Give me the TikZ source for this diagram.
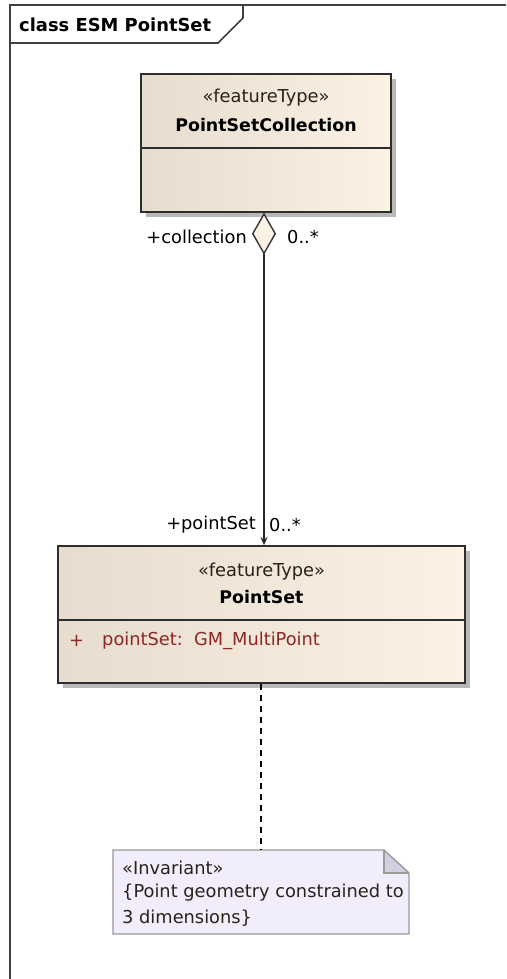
\documentclass[tikz,border=0pt]{standalone}
\usepackage{fontspec}
\setmainfont{DejaVu Sans}
\usetikzlibrary{arrows.meta,shapes.geometric,shadows}
\definecolor{frameclr}{HTML}{404040}
\definecolor{boxline}{HTML}{2E2E2E}
\definecolor{boxleft}{HTML}{E6DDCE}
\definecolor{boxright}{HTML}{FCF2E3}
\definecolor{attrclr}{HTML}{8E2626}
\definecolor{notefill}{HTML}{F1EDFD}
\definecolor{noteline}{HTML}{9A9A9A}
\definecolor{foldfill}{HTML}{D2CFDF}
\definecolor{stereoclr}{HTML}{2A2218}
\newcommand{\txtsize}{\fontsize{17.8}{21}\selectfont}
\newcommand{\bldsize}{\fontsize{17.4}{21}\selectfont}
\newcommand{\ttlsize}{\fontsize{17.9}{22}\selectfont}
\tikzset{
  classbox/.style={draw=boxline, line width=1.8pt, left color=boxleft, right color=boxright,
    inner sep=0pt, drop shadow={shadow xshift=5pt, shadow yshift=-5pt, fill=black!28, opacity=1}},
  txt/.style={font=\txtsize, inner sep=0pt},
  boldtxt/.style={font=\bldsize\bfseries, inner sep=0pt},
  conn/.style={line width=1.4pt, draw=black!85},
}
\begin{document}
\begin{tikzpicture}[x=1pt,y=-1pt]
\useasboundingbox (0,0) rectangle (506,979);
% frame
\draw[frameclr, line width=2.2pt] (10,979) -- (10,5) -- (506,5);
\draw[frameclr, line width=1.6pt] (10,43) -- (218,43) -- (243,18) -- (243,5);
\node[font=\ttlsize\bfseries, inner sep=0pt, anchor=west] (title) at (19,25) {class ESM PointSet};
% class 1
\node[classbox, minimum width=250pt, minimum height=138pt] (c1) at (266,143) {};
\draw[boxline, line width=1.6pt] (c1.west |- 0,148) -- (c1.east |- 0,148);
\node[txt, text=stereoclr] (st1) at (266,98) {«featureType»};
\node[boldtxt] (n1) at (266,125) {PointSetCollection};
% class 2
\node[classbox, minimum width=407pt, minimum height=137pt] (c2) at (261.5,614.5) {};
\draw[boxline, line width=1.6pt] (c2.west |- 0,620) -- (c2.east |- 0,620);
\node[txt, text=stereoclr] (st2) at (261.5,572) {«featureType»};
\node[boldtxt] (n2) at (261.5,597) {PointSet};
\node[txt, text=attrclr, anchor=west] (a1) at (69,641) {+};
\node[txt, text=attrclr, anchor=west] (a2) at (102,641) {pointSet:\ \ GM\_MultiPoint};
% aggregation diamond
\node[diamond, draw=black!80, line width=1.4pt, fill=boxright, inner sep=0pt,
      minimum width=23pt, minimum height=40pt, anchor=north] (dia) at (264,213) {};
\draw[conn, -{Stealth[length=8pt,width=7pt]}] (dia.south) -- (dia.south |- c2.north);
\node[txt, anchor=east] (r1) at (247,237) {+collection};
\node[txt, anchor=west] (m1) at (287,237) {0..*};
\node[txt, anchor=east] (r2) at (256,525) {+pointSet};
\node[txt, anchor=west] (m2) at (269,525) {0..*};
% note
\coordinate (nTL) at (113,850);
\coordinate (nTR) at (384,850);
\coordinate (nF) at (409,873);
\coordinate (nBR) at (409,934);
\coordinate (nBL) at (113,934);
\fill[notefill] (nTL) -- (nTR) -- (nF) -- (nBR) -- (nBL) -- cycle;
\fill[foldfill] (nTR) -- (nF) -- (nTR |- nF) -- cycle;
\draw[noteline, line width=1.4pt] (nTL) -- (nTR) -- (nF) -- (nBR) -- (nBL) -- cycle;
\draw[noteline, line width=1.4pt] (nTR) -- (nTR |- nF) -- (nF);
\node[txt, text=stereoclr, anchor=west] (t1) at (122,868) {«Invariant»};
\node[txt, text=stereoclr, anchor=west] (t2) at (122,893) {\{Point geometry constrained to};
\node[txt, text=stereoclr, anchor=west] (t3) at (122,918) {3 dimensions\}};
\coordinate (ntop) at (261,850);
\draw[line width=1.4pt, dash pattern=on 6pt off 5pt] (c2.south -| ntop) -- (ntop);
\end{tikzpicture}
\end{document}
